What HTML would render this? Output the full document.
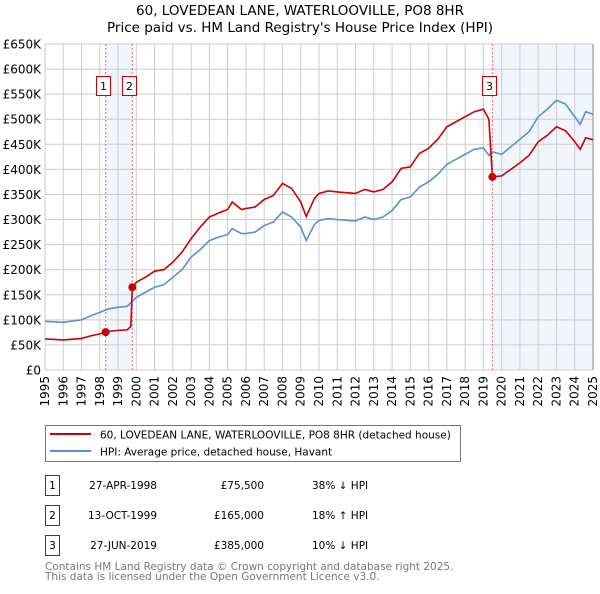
<!DOCTYPE html>
<html><head><meta charset="utf-8">
<style>
body{margin:0;background:#fff;width:600px;height:590px;overflow:hidden;font-family:"DejaVu Sans","Liberation Sans",sans-serif;}
svg text{font-family:"DejaVu Sans","Liberation Sans",sans-serif;}
</style></head>
<body>
<svg id="c" width="600" height="590" xmlns="http://www.w3.org/2000/svg">
<text x="300" y="15" text-anchor="middle" font-size="13.5" fill="#000">60, LOVEDEAN LANE, WATERLOOVILLE, PO8 8HR</text>
<text x="300" y="32" text-anchor="middle" font-size="13.5" fill="#000">Price paid vs. HM Land Registry's House Price Index (HPI)</text>
<g id="grid"></g><g id="marks"></g>
<g>
<rect x="45.5" y="425.5" width="415" height="36" fill="#fff" stroke="#777"/>
<line x1="50" y1="434" x2="91" y2="434" stroke="#cc0000" stroke-width="2"/>
<text x="100" y="438.5" font-size="10.5">60, LOVEDEAN LANE, WATERLOOVILLE, PO8 8HR (detached house)</text>
<line x1="50" y1="451" x2="91" y2="451" stroke="#5b8fd4" stroke-width="2"/>
<text x="100" y="455.5" font-size="10.5">HPI: Average price, detached house, Havant</text>
</g>
<g id="table" font-size="10.5"></g>
<text x="45" y="570" font-size="10.5" fill="#777">Contains HM Land Registry data © Crown copyright and database right 2025.</text>
<text x="45" y="580" font-size="10.5" fill="#777">This data is licensed under the Open Government Licence v3.0.</text>
</svg>
<script>
const hpiT=[1995,1996,1997,1997.5,1998,1998.5,1999,1999.5,2000,2000.5,2001,2001.5,2002,2002.5,2003,2003.5,2004,2004.5,2005,2005.25,2005.75,2006,2006.5,2007,2007.5,2008,2008.5,2009,2009.3,2009.75,2010,2010.5,2011,2012,2012.5,2013,2013.5,2014,2014.5,2015,2015.5,2016,2016.5,2017,2017.5,2018,2018.5,2019,2019.3,2019.5,2020,2020.5,2021,2021.5,2022,2022.5,2023,2023.5,2024,2024.3,2024.6,2025];
const hpiV=[97,95,100,108,115,122,125,127,145,155,165,170,185,200,225,240,258,265,270,282,272,272,275,288,295,315,305,285,258,290,298,302,300,297,305,300,305,318,340,345,365,375,390,410,420,430,440,443,428,435,430,445,460,475,505,520,538,530,505,490,515,510];
const redT=[1995,1996,1997,1997.5,1998,1998.32,1998.5,1999,1999.5,1999.7,1999.78,2000,2000.5,2001,2001.5,2002,2002.5,2003,2003.5,2004,2004.5,2005,2005.25,2005.75,2006,2006.5,2007,2007.5,2008,2008.5,2009,2009.3,2009.75,2010,2010.5,2011,2012,2012.5,2013,2013.5,2014,2014.5,2015,2015.5,2016,2016.5,2017,2017.5,2018,2018.5,2019,2019.3,2019.49,2020,2020.5,2021,2021.5,2022,2022.5,2023,2023.5,2024,2024.3,2024.6,2025];
const redV=[62,60,63,68,72,75.5,77,79,80,87,165,175,185,197,200,215,235,262,285,305,313,320,335,320,322,325,340,348,372,362,335,306,342,352,357,355,352,360,355,360,375,402,405,432,442,460,485,495,505,515,520,500,385,387,400,413,428,455,468,485,477,455,440,463,459];
const saleT=[1998.32,1999.78,2019.49];
const saleV=[75.5,165,385];
const saleLabels=["1","2","3"];
const saleDates=["27-APR-1998","13-OCT-1999","27-JUN-2019"];
const salePrices=["£75,500","£165,000","£385,000"];
const saleDiff=["38% ↓ HPI","18% ↑ HPI","10% ↓ HPI"];
const yTicks=[0,50,100,150,200,250,300,350,400,450,500,550,600,650];
const yTickLabels=["£0","£50K","£100K","£150K","£200K","£250K","£300K","£350K","£400K","£450K","£500K","£550K","£600K","£650K"];
const xYears=[1995,1996,1997,1998,1999,2000,2001,2002,2003,2004,2005,2006,2007,2008,2009,2010,2011,2012,2013,2014,2015,2016,2017,2018,2019,2020,2021,2022,2023,2024,2025];
const X0=45,X1=593,Y0=370,Y1=44;
const x=t=>X0+(t-1995)/30*(X1-X0);
const y=v=>Y0-v/650*(Y0-Y1);
const NS="http://www.w3.org/2000/svg";
function mk(tag,attrs,parent){const e=document.createElementNS(NS,tag);for(const k in attrs)e.setAttribute(k,attrs[k]);parent.appendChild(e);return e;}
const grid=document.getElementById('grid'),marks=document.getElementById('marks');
let s1=mk('rect',{x:x(saleT[0]),y:Y1,width:x(saleT[1])-x(saleT[0]),height:Y0-Y1,fill:'#eef3fc',opacity:0.8},grid);


let s2=mk('rect',{x:x(saleT[2]),y:Y1,width:X1-x(saleT[2]),height:Y0-Y1,fill:'#eef3fc',opacity:0.8},grid);


yTicks.forEach((v,i)=>{
 let l=mk('line',{x1:X0,x2:X1,y1:y(v),y2:y(v),stroke:'#ccc','stroke-width':1},grid);
 
 
 let t=mk('text',{x:41,y:y(v)+4.5,'text-anchor':'end','font-size':12},grid);
 
 
 t.textContent=yTickLabels[i];
});
xYears.forEach(yr=>{
 let l=mk('line',{x1:x(yr),x2:x(yr),y1:Y1,y2:Y0,stroke:'#ccc','stroke-width':1},grid);
 
 
 let t=mk('text',{x:0,y:0,'text-anchor':'end','font-size':12,transform:`translate(${x(yr)+4},${Y0+6}) rotate(-90)`},grid);
 
 
 t.textContent=yr;
});
let rb=mk('line',{x1:X1,x2:X1,y1:Y1,y2:Y0,stroke:'#888','stroke-width':1},grid);


saleT.forEach((t,i)=>{
 let l=mk('line',{x1:x(t),x2:x(t),y1:Y1,y2:Y0,stroke:'#ff6666','stroke-width':1,'stroke-dasharray':'2,2'},grid);
 
 
 const bx=Math.round(x(t)-10)+0.5;
 let r=mk('rect',{x:bx,y:76.5,width:14,height:19,fill:'#fff',stroke:'#cc0000'},grid);
 
 
 let tx=mk('text',{x:bx+7,y:90,'text-anchor':'middle','font-size':11},grid);
 
 
 tx.textContent=saleLabels[i];
});
let hp=mk('polyline',{points:hpiT.map((t,i)=>x(t)+','+y(hpiV[i])).join(' '),fill:'none',stroke:'#5b8fd4','stroke-width':1.6},marks);


let rp=mk('polyline',{points:redT.map((t,i)=>x(t)+','+y(redV[i])).join(' '),fill:'none',stroke:'#cc0000','stroke-width':1.6},marks);


saleT.forEach((t,i)=>{
 let c=mk('circle',{cx:x(t),cy:y(saleV[i]),r:4,fill:'#cc0000'},marks);
 
 
});
const tb=document.getElementById('table');
saleT.forEach((t,i)=>{
 const ry=475+i*30;
 let r=mk('rect',{x:45.5,y:ry+0.5,width:14,height:20,fill:'#fff',stroke:'#cc0000'},tb);
 
 
 const cols=[[52.5,'middle',saleLabels[i]],[157,'end',saleDates[i]],[264,'end',salePrices[i]],[312,'start',saleDiff[i]]];
 cols.forEach(c=>{
  let e=mk('text',{x:c[0],y:ry+14,'text-anchor':c[1]},tb);
  
  
  e.textContent=c[2];
 });
});
</script>
</body></html>
